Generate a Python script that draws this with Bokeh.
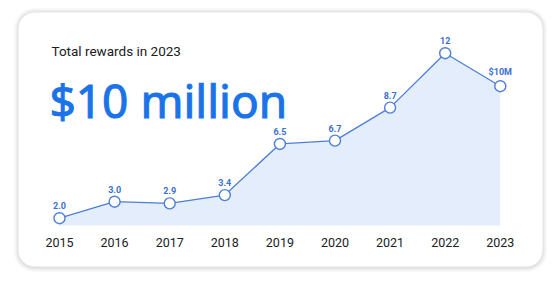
from bokeh.plotting import figure
from bokeh.models import ColumnDataSource, Label, LabelSet, BoxAnnotation, Range1d
from bokeh.core.properties import value
from bokeh.embed import file_html
from bokeh.resources import INLINE

# ---- data ----
years = [2015, 2016, 2017, 2018, 2019, 2020, 2021, 2022, 2023]
rewards = [2.0, 3.0, 2.9, 3.4, 6.5, 6.7, 8.7, 12.0, 10.0]
point_labels = ["2.0", "3.0", "2.9", "3.4", "6.5", "6.7", "8.7", "12", "$10M"]
year_labels = [str(y) for y in years]
title_small = "Total rewards in 2023"
title_big = "$10 million"

W, H = 559, 283
FONT = "Roboto"
BIG_FONT = "Noto Sans"
BLUE = "#1a73e8"
LINE = "#4d7fd6"
FILL = "#e3edfb"
LABEL_BLUE = "#3a70d2"
DARK = "#202124"

px_per_year = 55.1
px_per_unit = 16.5
x0_px, y0_px = 59.0, 217.7  # screen position of first point

x_start = years[0] - x0_px / px_per_year
y_bottom = rewards[0] - (H - y0_px) / px_per_unit
base_val = rewards[0] - (225 - y0_px) / px_per_unit

p = figure(width=W, height=H, output_backend="svg", toolbar_location=None,
           x_range=Range1d(x_start, x_start + W / px_per_year),
           y_range=Range1d(y_bottom, y_bottom + H / px_per_unit),
           min_border=0, min_border_left=0, min_border_right=0,
           min_border_top=0, min_border_bottom=0)
p.axis.visible = False
p.grid.visible = False
p.outline_line_color = None
p.background_fill_color = "white"
p.border_fill_color = "white"

# card with soft shadow
for grow, alpha in [(5, 0.012), (4, 0.018), (3, 0.022), (2, 0.026), (1, 0.03)]:
    p.add_layout(BoxAnnotation(left=18 - grow, right=542 + grow,
                               top=H - 12 + grow, bottom=H - 266 - grow - 1,
                               left_units="screen", right_units="screen",
                               top_units="screen", bottom_units="screen",
                               fill_color="#000000", fill_alpha=alpha,
                               line_color=None, border_radius=16 + grow,
                               level="underlay"))
p.add_layout(BoxAnnotation(left=18, right=542, top=H - 12, bottom=H - 266,
                           left_units="screen", right_units="screen",
                           top_units="screen", bottom_units="screen",
                           fill_color="white", fill_alpha=1.0,
                           line_color="#f1f1f1", line_width=1, border_radius=16,
                           level="underlay"))

src = ColumnDataSource(dict(year=years, val=rewards, lab=point_labels,
                            ylab=year_labels, base=[base_val] * len(years)))

p.varea(x="year", y1="base", y2="val", source=src, fill_color=FILL, fill_alpha=1.0)
p.line(x="year", y="val", source=src, line_color=LINE, line_width=1.3)
p.scatter(x="year", y="val", source=src, size=11, fill_color="white",
          line_color=LINE, line_width=1.4)

p.add_layout(LabelSet(x="year", y="val", text="lab", source=src, y_offset=9,
                      text_align="center", text_baseline="bottom",
                      text_font=value(FONT), text_font_size="9px",
                      text_font_style="bold", text_color=LABEL_BLUE))

p.add_layout(LabelSet(x="year", y=H - 242, y_units="screen", text="ylab", source=src,
                      text_align="center", text_baseline="middle",
                      text_font=value(FONT), text_font_size="12.5px",
                      text_color=DARK))

p.add_layout(Label(x=51, y=H - 50, x_units="screen", y_units="screen",
                   text=title_small, text_font=FONT, text_font_size="13.5px",
                   text_color=DARK, text_baseline="alphabetic"))
p.add_layout(Label(x=49, y=H - 99, x_units="screen", y_units="screen",
                   text=title_big, text_font=BIG_FONT, text_font_size="46px",
                   text_color=BLUE, text_outline_color=BLUE,
                   text_baseline="alphabetic"))

open("out.html", "w").write(file_html(p, INLINE))
